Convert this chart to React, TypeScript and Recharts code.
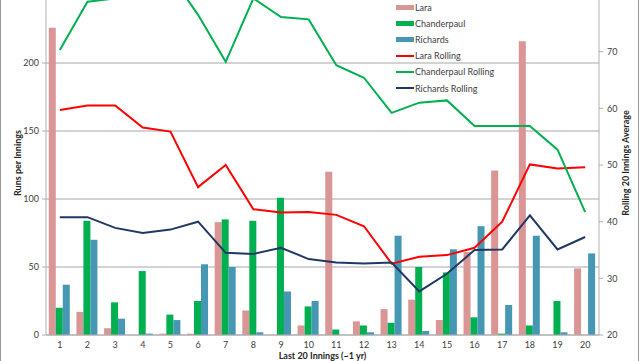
import { ComposedChart, Bar, Line, XAxis, YAxis, CartesianGrid, Legend } from 'recharts';

const FONT = 'Lato, "Open Sans", sans-serif';

const innings = ['1', '2', '3', '4', '5', '6', '7', '8', '9', '10', '11', '12', '13', '14', '15', '16', '17', '18', '19', '20'];

// runs per innings
const lara = [226, 17, 5, 0, 1, 1, 83, 18, 0, 7, 120, 10, 19, 26, 11, 61, 121, 216, 0, 49];
const chanderpaul = [20, 84, 24, 47, 15, 25, 85, 84, 101, 21, 4, 7, 9, 50, 46, 13, 1, 7, 25, 0];
const richards = [37, 70, 12, 1, 11, 52, 50, 2, 32, 25, 0, 2, 73, 3, 63, 80, 22, 73, 2, 60];

// rolling 20 innings average
const laraRolling = [59.7, 60.5, 60.5, 56.6, 55.9, 46.1, 50, 42.2, 41.6, 41.7, 41.2, 39.2, 32.6, 33.8, 34.1, 35.4, 40, 50.1, 49.4, 49.6];
const chanderpaulRolling = [70.3, 78.8, 79.4, 82.5, 83.5, 76.5, 68.2, 79.4, 76.1, 75.7, 67.6, 65.4, 59.2, 61, 61.4, 56.9, 56.9, 56.9, 52.7, 41.7];
const richardsRolling = [40.8, 40.8, 38.9, 38, 38.6, 40, 34.5, 34.3, 35.4, 33.4, 32.8, 32.6, 32.8, 27.7, 30.8, 35, 35.1, 41.1, 35.1, 37.3];

const leftTicks = [0, 50, 100, 150, 200];
const rightTicks = [20, 30, 40, 50, 60, 70];

const data = innings.map((inning, i) => ({
  inning,
  lara: lara[i],
  chanderpaul: chanderpaul[i],
  richards: richards[i],
  laraRolling: laraRolling[i],
  chanderpaulRolling: chanderpaulRolling[i],
  richardsRolling: richardsRolling[i],
}));

const series = [
  { key: 'lara', name: 'Lara', color: '#d99694', kind: 'bar' },
  { key: 'chanderpaul', name: 'Chanderpaul', color: '#00b050', kind: 'bar' },
  { key: 'richards', name: 'Richards', color: '#4697b4', kind: 'bar' },
  { key: 'laraRolling', name: 'Lara Rolling', color: '#ff0000', kind: 'line' },
  { key: 'chanderpaulRolling', name: 'Chanderpaul Rolling', color: '#00b050', kind: 'line' },
  { key: 'richardsRolling', name: 'Richards Rolling', color: '#1f3864', kind: 'line' },
];

const tickStyle = { fontSize: 9, fill: '#404040', fontFamily: FONT };
const axisColor = '#b0b0b0';

const LegendBox = () => (
  <div style={{ fontFamily: FONT, fontSize: 9, color: '#404040' }}>
    {series.map((s) => (
      <div key={s.key} style={{ display: 'flex', alignItems: 'center', height: 16.2 }}>
        <span style={{ display: 'inline-block', width: 18, height: s.kind === 'bar' ? 5 : 2, background: s.color }} />
        <span style={{ marginLeft: 1 }}>{s.name}</span>
      </div>
    ))}
  </div>
);

const AxisTitle = ({ x, y, angle, text }: { x: number; y: number; angle: number; text: string }) => (
  <text
    x={x}
    y={y}
    transform={angle ? `rotate(${angle} ${x} ${y})` : undefined}
    textAnchor="middle"
    dominantBaseline="central"
    fontFamily={FONT}
    fontSize={9}
    fontWeight="bold"
    fill="#262626"
  >
    {text}
  </text>
);

export default function App() {
  return (
    <div
      style={{
        position: 'absolute',
        left: 0,
        top: 0,
        width: 637,
        height: 361,
        overflow: 'hidden',
        borderLeft: '1px solid #9a9a9a',
        borderRight: '1px solid #9a9a9a',
        background: '#fff',
      }}
    >
      <div style={{ position: 'absolute', left: -1, top: -5 }}>
        <ComposedChart
          width={641}
          height={380}
          data={data}
          margin={{ top: 0, right: 0, bottom: 0, left: 0 }}
          barCategoryGap="10%"
          barGap={0}
        >
          <CartesianGrid yAxisId="left" vertical={false} stroke="#a6a6a6" strokeWidth={1} />
          <XAxis
            dataKey="inning"
            height={40}
            tick={tickStyle}
            tickLine={false}
            tickSize={4}
            tickMargin={3}
            stroke={axisColor}
            label={{
              content: ({ viewBox }: any) => (
                <AxisTitle x={viewBox.x + viewBox.width / 2} y={360} angle={0} text="Last 20 Innings (~1 yr)" />
              ),
            }}
          />
          <YAxis
            yAxisId="left"
            width={46}
            domain={[0, 250]}
            ticks={leftTicks}
            allowDataOverflow
            tick={tickStyle}
            tickSize={4}
            tickMargin={3}
            stroke={axisColor}
            label={{
              content: ({ viewBox }: any) => (
                <AxisTitle x={17} y={viewBox.y + viewBox.height / 2 - 2} angle={-90} text="Runs per Innings" />
              ),
            }}
          />
          <YAxis
            yAxisId="right"
            orientation="right"
            width={42}
            domain={[20, 80]}
            ticks={rightTicks}
            allowDataOverflow
            tick={tickStyle}
            tickSize={4}
            tickMargin={4}
            stroke={axisColor}
            label={{
              content: ({ viewBox }: any) => (
                <AxisTitle x={625} y={viewBox.y + viewBox.height / 2 - 2} angle={-90} text="Rolling 20 Innings Average" />
              ),
            }}
          />
          <Legend
            layout="vertical"
            align="center"
            verticalAlign="middle"
            content={<LegendBox />}
            wrapperStyle={{ position: 'absolute', left: 396, top: 4, width: 'auto', height: 'auto' }}
          />
          {series
            .filter((s) => s.kind === 'bar')
            .map((s) => (
              <Bar key={s.key} yAxisId="left" dataKey={s.key} name={s.name} fill={s.color} isAnimationActive={false} />
            ))}
          {series
            .filter((s) => s.kind === 'line')
            .map((s) => (
              <Line
                key={s.key}
                yAxisId="right"
                type="linear"
                dataKey={s.key}
                name={s.name}
                stroke={s.color}
                strokeWidth={2}
                dot={false}
                activeDot={false}
                isAnimationActive={false}
              />
            ))}
        </ComposedChart>
      </div>
    </div>
  );
}
